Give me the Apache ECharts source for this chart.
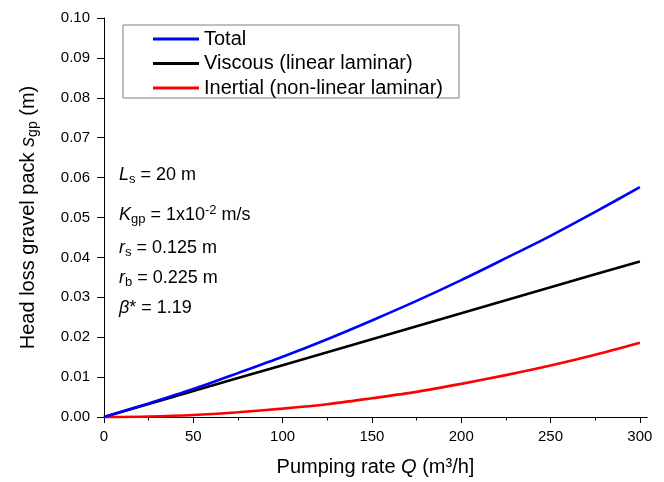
<!DOCTYPE html>
<html>
<head>
<meta charset="utf-8">
<script src="https://cdn.jsdelivr.net/npm/echarts@6/dist/echarts.min.js"></script>
<style>
html,body{margin:0;padding:0;background:#fff;}
#chart{width:664px;height:482px;}
</style>
</head>
<body>
<div id="chart"></div>
<script>
// Pumping rate Q (m3/h)
var pumpingRate = [0, 25, 50, 75, 100, 125, 150, 175, 200, 225, 250, 275, 300];
// Head loss components (m)
var totalLoss    = [0, 0.0034, 0.0070, 0.0110, 0.0151, 0.0195, 0.0242, 0.0291, 0.0343, 0.0398, 0.0454, 0.0514, 0.0576];
var viscousLoss  = [0, 0.00325, 0.0065, 0.00975, 0.0130, 0.01625, 0.0195, 0.02275, 0.0260, 0.02925, 0.0325, 0.03575, 0.0390];
var inertialLoss = [0, 0.00013, 0.0005, 0.0012, 0.0021, 0.0032, 0.0047, 0.0063, 0.0083, 0.0105, 0.0129, 0.0156, 0.0186];
var xMajorTicks = [0, 50, 100, 150, 200, 250, 300];
var xMinorTicks = [25, 75, 125, 175, 225, 275];
var seriesNames = ['Total', 'Viscous (linear laminar)', 'Inertial (non-linear laminar)'];
var annotationLines = [
  '{i|L}{sub|s} = 20 m',
  '{i|K}{sub|gp} = 1x10{sup|-2} m/s',
  '{i|r}{sub|s} = 0.125 m',
  '{i|r}{sub|b} = 0.225 m',
  '{i|β}* = 1.19'
];

var FONT = '"Liberation Sans", Arial, sans-serif';
function pairs(xs, ys) { return xs.map(function (x, i) { return [x, ys[i]]; }); }

var annY = [175, 215, 248, 278, 308];
var richAnn = {
  i: { fontStyle: 'italic', fontSize: 18, fontFamily: FONT, lineHeight: 22 },
  sub: { fontSize: 13, fontFamily: FONT, verticalAlign: 'bottom', lineHeight: 9 },
  sup: { fontSize: 13, fontFamily: FONT, verticalAlign: 'top', lineHeight: 5 }
};
var graphics = annotationLines.map(function (t, k) {
  return {
    type: 'text', x: 119, y: annY[k], z: 100,
    style: { text: t, rich: richAnn, fontSize: 18, fontFamily: FONT, fill: '#000', lineHeight: 22, verticalAlign: 'middle' }
  };
});

var chart = echarts.init(document.getElementById('chart'), null, { renderer: 'canvas' });
chart.setOption({
  animation: false,
  backgroundColor: '#fff',
  grid: { left: 104, right: 17, top: 18, height: 400, containLabel: false },
  legend: {
    data: seriesNames,
    orient: 'vertical', left: 123, top: 25,
    padding: [4, 16, 0, 30], itemGap: 4.5,
    itemWidth: 46, itemHeight: 3, icon: 'rect',
    borderColor: '#808080', borderWidth: 1, borderRadius: 0,
    textStyle: { fontSize: 20, lineHeight: 20, fontFamily: FONT, color: '#000' }
  },
  xAxis: [{
    type: 'value', min: 0, max: 304, interval: 50,
    name: 'Pumping rate {i|Q} (m³/h]',
    nameLocation: 'middle', nameGap: 40,
    nameTextStyle: { fontSize: 20, fontFamily: FONT, color: '#000', rich: { i: { fontStyle: 'italic', fontSize: 20, fontFamily: FONT, color: '#000' } } },
    axisLine: { show: true, onZero: false, lineStyle: { color: '#000', width: 1 } },
    axisTick: { show: true, inside: false, length: 6, customValues: xMajorTicks, lineStyle: { color: '#000' } },
    axisLabel: { show: true, customValues: xMajorTicks, margin: 12, fontSize: 15, fontFamily: FONT, color: '#000' },
    splitLine: { show: false }
  }, {
    type: 'value', min: 0, max: 304, interval: 25, position: 'bottom', offset: 0,
    axisLine: { show: true, onZero: false, lineStyle: { color: '#000', width: 1 } },
    axisTick: { show: true, inside: false, length: 3.5, customValues: xMinorTicks, lineStyle: { color: '#000' } },
    axisLabel: { show: true, customValues: xMinorTicks, formatter: function () { return ''; } },
    splitLine: { show: false }
  }],
  yAxis: {
    type: 'value', min: 0, max: 0.1, interval: 0.01,
    name: 'Head loss gravel pack {i|s}{sub|gp} (m)',
    nameLocation: 'middle', nameGap: 64, nameRotate: 90,
    nameTextStyle: {
      fontSize: 20, fontFamily: FONT, color: '#000', lineHeight: 24,
      rich: {
        i: { fontStyle: 'italic', fontSize: 20, fontFamily: FONT, color: '#000', lineHeight: 24 },
        sub: { fontSize: 14, fontFamily: FONT, color: '#000', verticalAlign: 'bottom', lineHeight: 10 }
      }
    },
    axisLine: { show: true, lineStyle: { color: '#000', width: 1 } },
    axisTick: { show: true, inside: false, length: 7, lineStyle: { color: '#000' } },
    axisLabel: { margin: 14, fontSize: 15, fontFamily: FONT, color: '#000', formatter: function (v) { return v.toFixed(2); } },
    splitLine: { show: false }
  },
  series: [{
    name: seriesNames[1], type: 'line', data: pairs(pumpingRate, viscousLoss),
    showSymbol: false, symbol: 'none', clip: false,
    lineStyle: { color: '#000000', width: 2.6 }, itemStyle: { color: '#000000' }
  }, {
    name: seriesNames[2], type: 'line', data: pairs(pumpingRate, inertialLoss),
    showSymbol: false, symbol: 'none', clip: false, smooth: 0.3,
    lineStyle: { color: '#ff0000', width: 2.6 }, itemStyle: { color: '#ff0000' }
  }, {
    name: seriesNames[0], type: 'line', data: pairs(pumpingRate, totalLoss),
    showSymbol: false, symbol: 'none', clip: false, smooth: 0.3,
    lineStyle: { color: '#0000ff', width: 2.6 }, itemStyle: { color: '#0000ff' }
  }],
  graphic: graphics
});
</script>
</body>
</html>
